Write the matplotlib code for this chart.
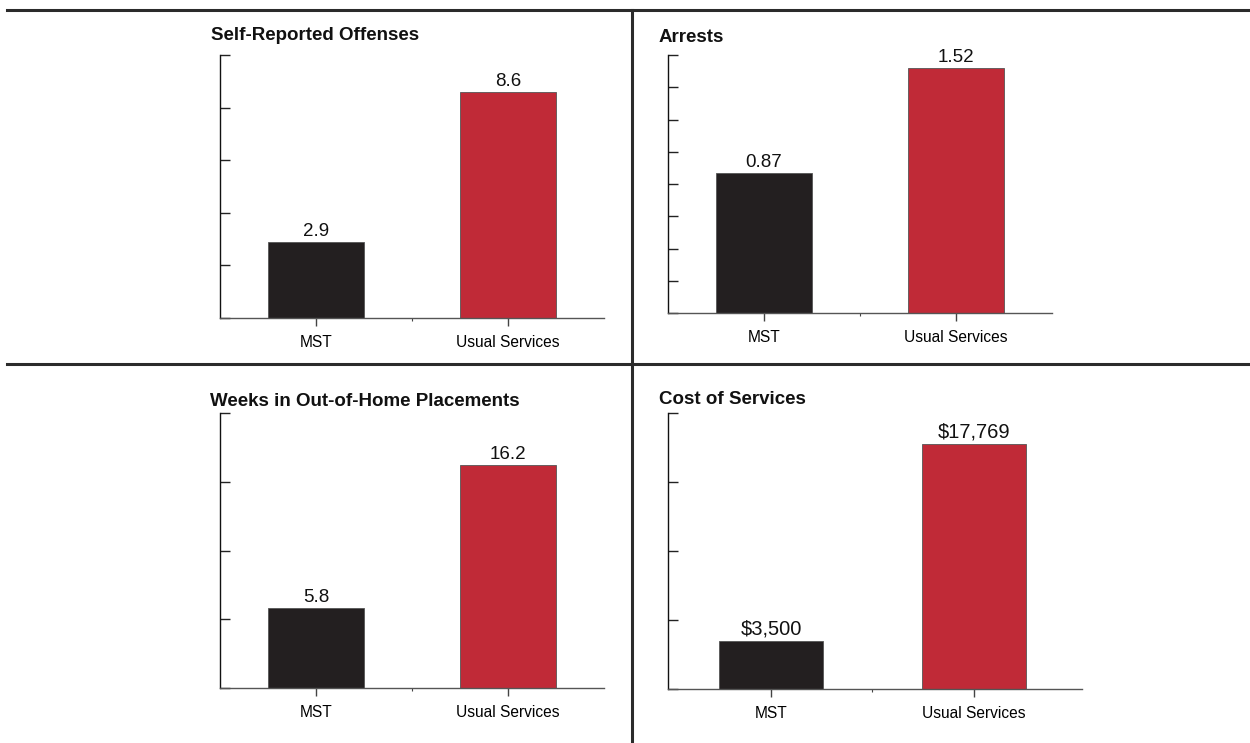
import matplotlib
matplotlib.use("Agg")
import matplotlib.pyplot as plt
from matplotlib.lines import Line2D

plt.rcParams["font.family"] = ["Liberation Sans", "DejaVu Sans"]

categories = ["MST", "Usual Services"]

offenses = [2.9, 8.6]
arrests = [0.87, 1.52]
weeks = [5.8, 16.2]
cost = [3500, 17769]

offense_labels = ["2.9", "8.6"]
arrest_labels = ["0.87", "1.52"]
week_labels = ["5.8", "16.2"]
cost_labels = ["$3,500", "$17,769"]

bar_colors = ["#231f20", "#c02a37"]

W, H = 1250, 743


def px_axes(fig, x0, y0, x1, y1):
    # pixel box (top-left origin) -> figure fraction
    return fig.add_axes([x0 / W, 1 - y1 / H, (x1 - x0) / W, (y1 - y0) / H])


def panel(ax, values, labels, ymax, ystep, xlim, width, label_size):
    xs = range(len(values))
    bars = ax.bar(xs, values, width=width, color=bar_colors,
                  edgecolor="#555555", linewidth=0.6, zorder=2)
    ax.bar_label(bars, labels=labels, padding=1.5, fontsize=label_size,
                 color="#111111")
    ax.set_xlim(*xlim)
    ax.set_ylim(0, ymax)
    n = int(round(ymax / ystep))
    ax.set_yticks([i * ystep for i in range(n + 1)])
    ax.set_yticklabels([])
    ax.tick_params(axis="y", direction="in", length=7, width=1,
                   color="#222222")
    ax.set_xticks(list(xs))
    ax.set_xticklabels(categories, fontsize=11.2)
    ax.set_xticks([0.5], minor=True)
    ax.tick_params(axis="x", which="major", direction="out", length=6,
                   width=1, color="#444444", pad=6)
    ax.tick_params(axis="x", which="minor", direction="out", length=2,
                   width=0.8, color="#444444")
    for side in ["top", "right"]:
        ax.spines[side].set_visible(False)
    ax.spines["left"].set_color("#111111")
    ax.spines["left"].set_linewidth(1.0)
    ax.spines["bottom"].set_color("#555555")
    ax.spines["bottom"].set_linewidth(1.0)


fig = plt.figure(figsize=(W / 100, H / 100), dpi=100)

ax1 = px_axes(fig, 220, 55, 604, 318)
panel(ax1, offenses, offense_labels, 10, 2, (-0.5, 1.5), 0.5, 13.5)

ax2 = px_axes(fig, 668, 55, 1052, 313)
panel(ax2, arrests, arrest_labels, 1.6, 0.2, (-0.5, 1.5), 0.5, 13.5)

ax3 = px_axes(fig, 220, 413, 604, 688)
panel(ax3, weeks, week_labels, 20, 5, (-0.5, 1.5), 0.5, 13.5)

ax4 = px_axes(fig, 668, 413, 1082, 689)
panel(ax4, cost, cost_labels, 20000, 5000, (-0.507, 1.532), 0.51, 14.5)

titles = [
    (211, 35, "Self-Reported Offenses"),
    (659, 37, "Arrests"),
    (210, 401, "Weeks in Out-of-Home Placements"),
    (659, 400, "Cost of Services"),
]
for x, y, t in titles:
    fig.text(x / W, 1 - y / H, t, fontsize=13.5, fontweight="bold",
             ha="left", va="center", color="#111111")

# panel divider lines
line_kw = dict(color="#2b2b2b", linewidth=2.2, transform=fig.transFigure)
fig.add_artist(Line2D([7 / W, 1], [1 - 10 / H, 1 - 10 / H], **line_kw))
fig.add_artist(Line2D([7 / W, 1], [1 - 364 / H, 1 - 364 / H], **line_kw))
fig.add_artist(Line2D([632 / W, 632 / W], [1 - 10 / H, 0], **line_kw))

fig.savefig("out.png", dpi=100)
